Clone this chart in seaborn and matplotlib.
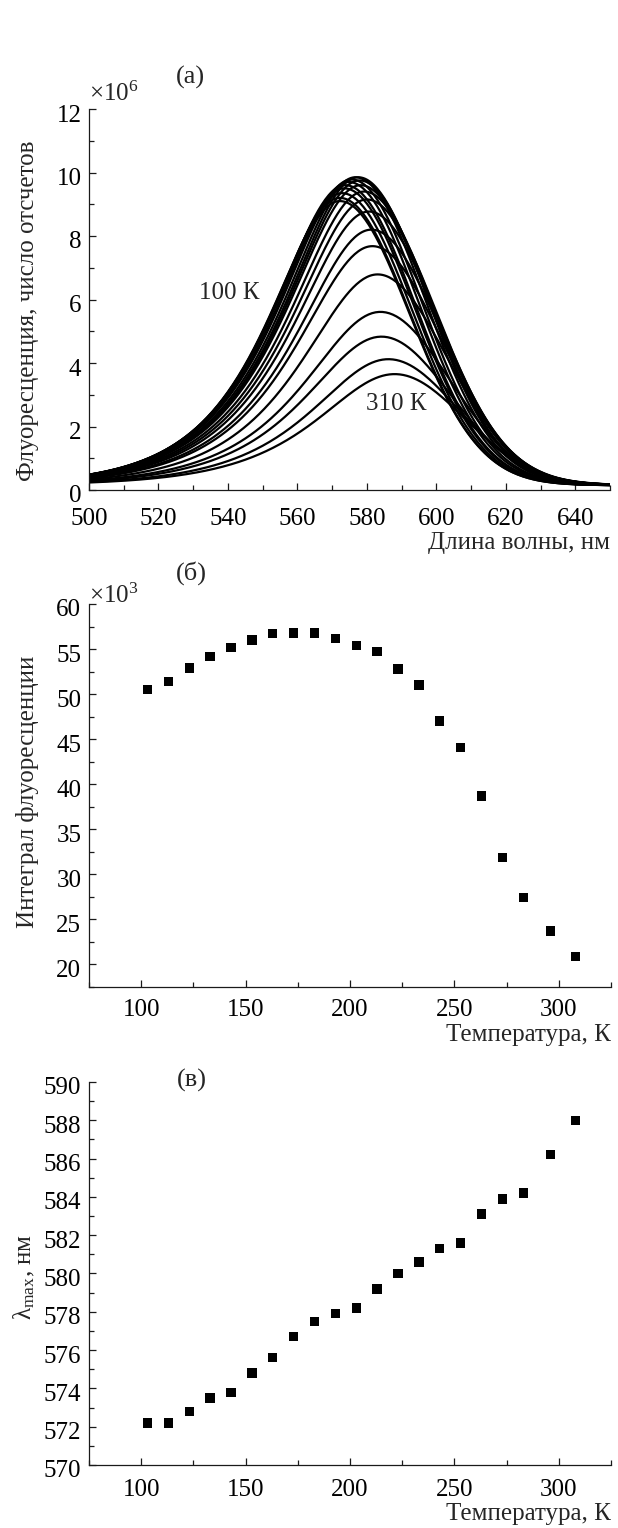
import numpy as np
import pandas as pd
import matplotlib
matplotlib.use("Agg")
import matplotlib.pyplot as plt
import matplotlib.transforms as mtransforms
from matplotlib.ticker import MultipleLocator
import seaborn as sns

# ---------------- data ----------------
temperatures = [103, 113, 123, 133, 143, 153, 163, 173, 183, 193, 203,
                213, 223, 233, 243, 253, 263, 273, 283, 296, 308]
integral_k = [50.5, 51.4, 52.9, 54.2, 55.2, 56.0, 56.7, 56.8, 56.8, 56.2, 55.4,
              54.7, 52.8, 51.0, 47.0, 44.1, 38.7, 31.9, 27.4, 23.7, 20.9]
lambda_max = [572.2, 572.2, 572.8, 573.5, 573.8, 574.8, 575.6, 576.7, 577.5, 577.9, 578.2,
              579.2, 580.0, 580.6, 581.3, 581.6, 583.1, 583.9, 584.2, 586.2, 588.0]
# spectra (panel a): peak heights (x1e6)
peak_height = [9.10, 9.20, 9.35, 9.50, 9.60, 9.70, 9.78, 9.85, 9.85, 9.75, 9.60,
               9.40, 9.15, 8.77, 8.20, 7.68, 6.79, 5.61, 4.83, 4.12, 3.65]
left_width = [18.0, 18.0, 18.1, 18.2, 18.3, 18.4, 18.5, 18.6, 18.7, 18.8, 18.9,
              19.0, 19.1, 19.2, 19.3, 19.4, 19.5, 19.6, 19.7, 19.8, 20.0]
right_sigma = [20.0] * 21
baseline = [0.15] * 21
wl_grid = np.linspace(500, 650, 301)

# build long table for spectra
rows = []
for T, x0, h, wl, sr, b in zip(temperatures, lambda_max, peak_height, left_width, right_sigma, baseline):
    amp = h - b
    left = amp / np.cosh((wl_grid - x0) / wl)
    right = amp * np.exp(-((wl_grid - x0) ** 2) / (2 * sr ** 2))
    y = np.where(wl_grid < x0, left, right) + b
    rows.append(pd.DataFrame({"wl": wl_grid, "I": y, "T": T}))
spec = pd.concat(rows, ignore_index=True)
pts = pd.DataFrame({"T": temperatures, "integral": integral_k, "lmax": lambda_max})

# ---------------- style ----------------
sns.set_style("ticks")
plt.rcParams["font.family"] = ["Liberation Serif", "DejaVu Serif"]
plt.rcParams["mathtext.fontset"] = "custom"
plt.rcParams["mathtext.rm"] = "Liberation Serif"
plt.rcParams["mathtext.it"] = "Liberation Serif:italic"
plt.rcParams["axes.edgecolor"] = "#1a1a1a"
plt.rcParams["axes.linewidth"] = 0.9

W, H = 618, 1528
fig = plt.figure(figsize=(W / 100, H / 100), dpi=100)

def frame(l, r, t, b):
    return [l / W, 1 - b / H, (r - l) / W, (b - t) / H]

ax1 = fig.add_axes(frame(89, 610, 109, 490))
ax2 = fig.add_axes(frame(89, 611, 604, 987))
ax3 = fig.add_axes(frame(89, 611, 1082, 1465))

FS = 18

sns.lineplot(data=spec, x="wl", y="I", units="T", estimator=None, color="black",
             lw=1.6, ax=ax1, legend=False)
sns.scatterplot(data=pts, x="T", y="integral", marker="s", s=46, color="black",
                edgecolor="none", ax=ax2, legend=False)
sns.scatterplot(data=pts, x="T", y="lmax", marker="s", s=46, color="black",
                edgecolor="none", ax=ax3, legend=False)

ax1.set_xlim(500, 650)
ax1.set_ylim(0, 12)
ax1.set_xticks([500, 520, 540, 560, 580, 600, 620, 640])
ax1.xaxis.set_minor_locator(MultipleLocator(10))
ax1.yaxis.set_major_locator(MultipleLocator(2))
ax1.yaxis.set_minor_locator(MultipleLocator(1))

ax2.set_xlim(75, 325)
ax2.set_ylim(17.5, 60)
ax2.set_xticks([100, 150, 200, 250, 300])
ax2.xaxis.set_minor_locator(MultipleLocator(25))
ax2.set_yticks([20, 25, 30, 35, 40, 45, 50, 55, 60])
ax2.yaxis.set_minor_locator(MultipleLocator(2.5))

ax3.set_xlim(75, 325)
ax3.set_ylim(570, 590)
ax3.set_xticks([100, 150, 200, 250, 300])
ax3.xaxis.set_minor_locator(MultipleLocator(25))
ax3.yaxis.set_major_locator(MultipleLocator(2))
ax3.yaxis.set_minor_locator(MultipleLocator(1))

for ax, xpad in ((ax1, 13), (ax2, 8.6), (ax3, 10)):
    sns.despine(ax=ax)
    ax.tick_params(which="both", direction="in", colors="#1a1a1a", labelcolor="black",
                   labelsize=FS, width=0.9)
    ax.tick_params(which="major", length=5)
    ax.tick_params(which="minor", length=3.5)
    ax.tick_params(axis="x", pad=xpad)
    ax.tick_params(axis="y", pad=5.5)

ax1.set_xlabel("Длина волны, нм", fontsize=FS)
ax1.set_ylabel("Флуоресценция, число отсчетов", fontsize=FS)
ax2.set_xlabel("Температура, К", fontsize=FS)
ax2.set_ylabel("Интеграл флуоресценции", fontsize=FS)
ax3.set_xlabel("Температура, К", fontsize=FS)
ax3.set_ylabel(r"λ$_{\rm max}$, нм", fontsize=FS)

for ax, xl_y, ylab_x, ylab_y in ((ax1, -0.139, -0.117, 0.47),
                                 (ax2, -0.125, -0.117, 0.51),
                                 (ax3, -0.127, -0.123, 0.49)):
    ax.xaxis.set_label_coords(1.0, xl_y)
    ax.xaxis.label.set_ha("right")
    ax.xaxis.label.set_va("center")
    ax.yaxis.set_label_coords(ylab_x, ylab_y)
    ax.yaxis.label.set_va("center")

# multipliers and panel letters
ax1.text(0.0, 1.04, r"×10$^{6}$", transform=ax1.transAxes, fontsize=FS, ha="left", va="center")
ax1.text(0.195, 1.084, "(a)", transform=ax1.transAxes, fontsize=FS + 1, ha="center", va="center")
ax2.text(0.0, 1.02, r"×10$^{3}$", transform=ax2.transAxes, fontsize=FS, ha="left", va="center")
ax2.text(0.197, 1.08, "(б)", transform=ax2.transAxes, fontsize=FS + 1, ha="center", va="center")
ax3.text(0.197, 1.005, "(в)", transform=ax3.transAxes, fontsize=FS + 1, ha="center", va="center")

# curve labels
ax1.text(540.5, 6.2, "100 К", fontsize=FS, ha="center", va="center")
ax1.text(588.5, 2.7, "310 К", fontsize=FS, ha="center", va="center")

# y tick labels sit slightly below their ticks in the reference
fig.canvas.draw()
shift = mtransforms.ScaledTranslation(0, -4 / 100, fig.dpi_scale_trans)
for ax in (ax1, ax2, ax3):
    for lab in ax.get_yticklabels():
        lab.set_transform(lab.get_transform() + shift)

fig.savefig("out.png", dpi=100, facecolor="white")
